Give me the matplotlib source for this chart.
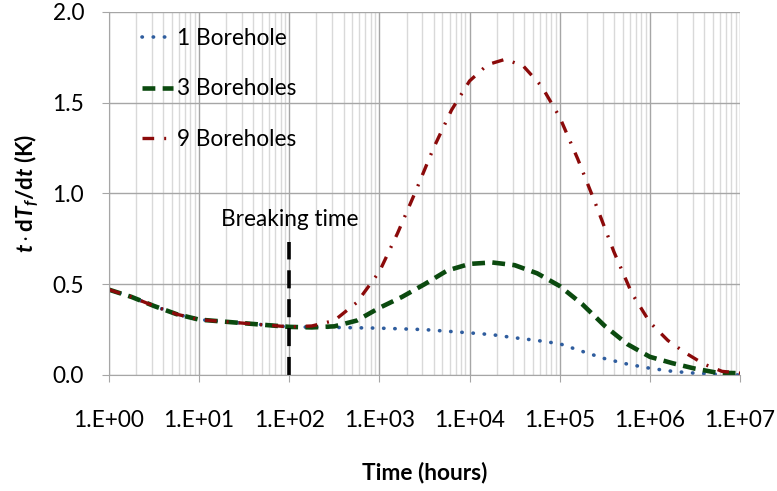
import numpy as np
import matplotlib
matplotlib.use('Agg')
import matplotlib.pyplot as plt
from matplotlib.ticker import LogLocator, FixedLocator, NullFormatter

plt.rcParams['font.family'] = ['Lato', 'DejaVu Sans']
plt.rcParams['mathtext.fontset'] = 'custom'
plt.rcParams['mathtext.rm'] = 'Lato:bold'
plt.rcParams['mathtext.it'] = 'Lato:bold:italic'
plt.rcParams['mathtext.bf'] = 'Lato:bold'

# log10 of time (hours) and t*dTf/dt values
exp_1 = [0, 0.25, 0.5, 0.75, 1.0, 1.5, 2.0, 2.5, 3.0, 3.5, 4.0, 4.25, 4.5,
         4.75, 5.0, 5.25, 5.5, 5.75, 6.0, 6.25, 6.5, 6.75, 7.0]
val_1 = [0.47, 0.43, 0.38, 0.335, 0.305, 0.285, 0.265, 0.262, 0.258, 0.25,
         0.232, 0.222, 0.205, 0.19, 0.172, 0.13, 0.09, 0.06, 0.037, 0.02,
         0.01, 0.004, 0.0]

exp_3 = [0, 0.25, 0.5, 0.75, 1.0, 1.5, 2.0, 2.25, 2.5, 2.75, 3.0, 3.25, 3.5,
         3.75, 4.0, 4.25, 4.5, 4.75, 5.0, 5.25, 5.5, 5.75, 6.0, 6.25, 6.5,
         6.75, 7.0]
val_3 = [0.47, 0.43, 0.38, 0.335, 0.305, 0.285, 0.265, 0.262, 0.268, 0.3,
         0.37, 0.43, 0.5, 0.575, 0.612, 0.62, 0.605, 0.56, 0.49, 0.39, 0.27,
         0.17, 0.1, 0.065, 0.035, 0.012, 0.01]

exp_9 = [0, 0.25, 0.5, 0.75, 1.0, 1.5, 2.0, 2.25, 2.5, 2.75, 3.0, 3.2, 3.4,
         3.6, 3.8, 4.0, 4.2, 4.4, 4.6, 4.8, 5.0, 5.2, 5.4, 5.6, 5.8, 6.0,
         6.2, 6.4, 6.6, 6.8, 7.0]
val_9 = [0.47, 0.43, 0.38, 0.335, 0.305, 0.285, 0.265, 0.27, 0.3, 0.4, 0.57,
         0.78, 1.01, 1.25, 1.46, 1.62, 1.71, 1.74, 1.70, 1.59, 1.42, 1.19,
         0.94, 0.68, 0.45, 0.29, 0.19, 0.12, 0.06, 0.02, 0.01]

breaking_t = 100
breaking_top = 0.73

x_ticks = [1e0, 1e1, 1e2, 1e3, 1e4, 1e5, 1e6, 1e7]
x_labels = ['1.E+00', '1.E+01', '1.E+02', '1.E+03', '1.E+04', '1.E+05',
            '1.E+06', '1.E+07']
y_ticks = [0.0, 0.5, 1.0, 1.5, 2.0]

fs = 16.3

fig = plt.figure(figsize=(7.77, 4.91), dpi=100)
ax = fig.add_axes([0.1403, 0.2363, 0.8121, 0.7393])

ax.plot(10 ** np.array(exp_1), val_1, color='#2F5D9E', lw=2.6,
        linestyle=(0, (0.1, 3.0)), dash_capstyle='round', label='1 Borehole')
ax.plot(10 ** np.array(exp_3), val_3, color='#0B4A0F', lw=3.3,
        linestyle=(0, (2.8, 1.6)), label='3 Boreholes')
ax.plot(10 ** np.array(exp_9), val_9, color='#8B0A0A', lw=2.4,
        linestyle=(0, (3.5, 3.0, 0.6, 3.0)), label='9 Boreholes')

ax.plot([breaking_t, breaking_t], [0, breaking_top], color='black', lw=2.6,
        linestyle=(0, (5, 3)))
ax.text(breaking_t, 0.855, 'Breaking time', ha='center', va='center',
        fontsize=fs)

ax.set_xscale('log')
ax.set_xlim(1, 1e7)
ax.set_ylim(0, 2.0)
ax.xaxis.set_major_locator(FixedLocator(x_ticks))
ax.set_xticklabels(x_labels)
ax.xaxis.set_minor_locator(LogLocator(base=10, subs=np.arange(2, 10), numticks=20))
ax.xaxis.set_minor_formatter(NullFormatter())
ax.set_yticks(y_ticks)
ax.set_yticklabels(['%.1f' % v for v in y_ticks])

ax.grid(which='major', color='#A6A6A6', lw=1)
ax.grid(which='minor', axis='x', color='#D9D9D9', lw=1)
ax.set_axisbelow(True)

ax.tick_params(axis='both', which='major', direction='out', length=5,
               color='#A6A6A6', labelsize=fs)
ax.tick_params(axis='x', which='major', pad=20)
ax.tick_params(axis='y', which='major', pad=13)
ax.tick_params(axis='x', which='minor', length=0)

for side in ['top', 'right']:
    ax.spines[side].set_visible(False)
for side in ['left', 'bottom']:
    ax.spines[side].set_color('#A6A6A6')

ax.set_xlabel('Time (hours)', fontsize=fs, fontweight='bold', labelpad=22)
ax.set_ylabel(r'$t\cdot\mathrm{d}T_f/\mathrm{d}t$ (K)', fontsize=fs,
              fontweight='bold', labelpad=8)

ax.legend(loc='upper left', bbox_to_anchor=(0.02, 1.012), frameon=False,
          fontsize=fs, handlelength=1.35, handletextpad=0.2, labelspacing=1.3)

fig.savefig('out.png', dpi=100)
